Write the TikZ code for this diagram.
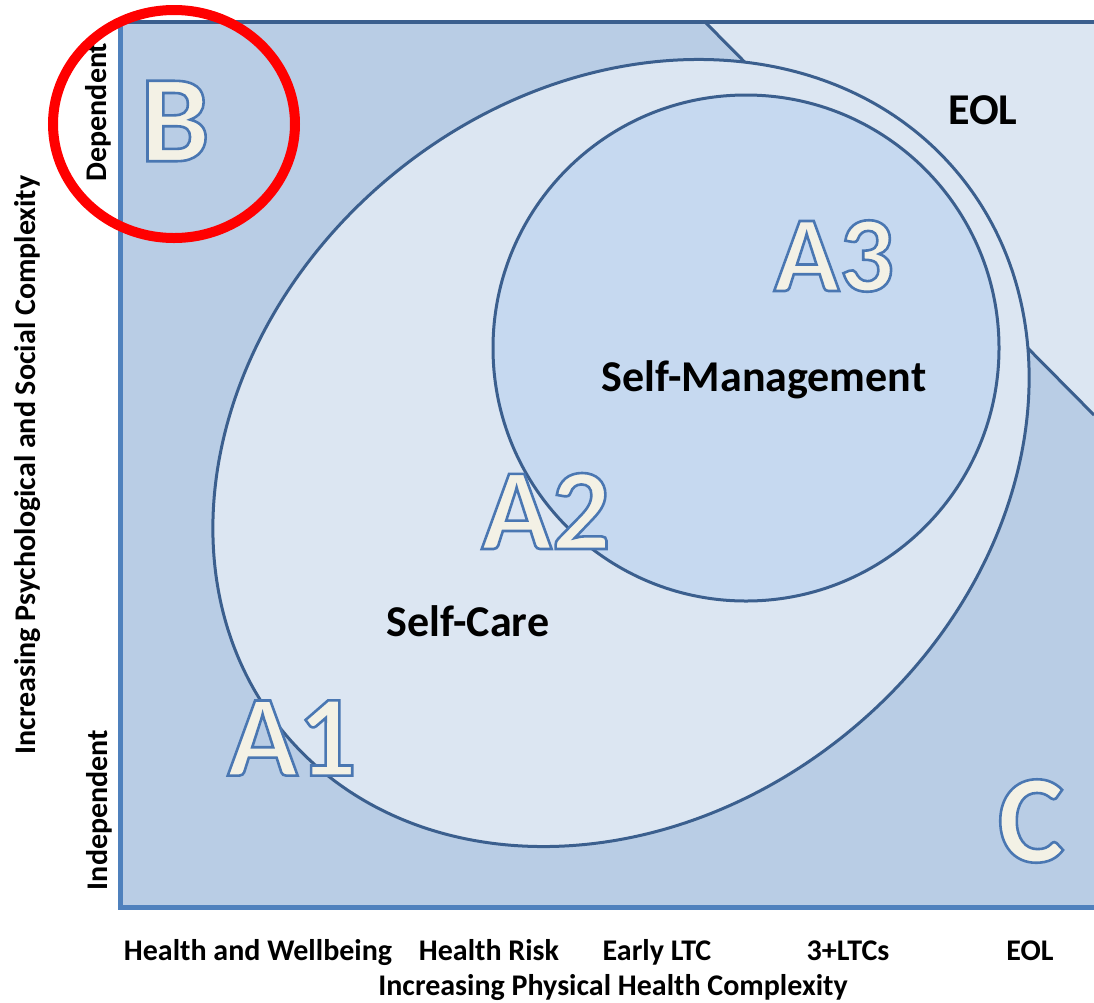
\documentclass[tikz,border=0pt]{standalone}
\usepackage{fontspec}
\setmainfont{Carlito}
\definecolor{bgblue}{HTML}{B9CDE5}
\definecolor{paleblue}{HTML}{DCE6F2}
\definecolor{innerblue}{HTML}{C6D9F0}
\definecolor{edgeblue}{HTML}{3B5F8E}
\definecolor{axisblue}{HTML}{4F81BD}
\definecolor{lettercream}{HTML}{F3F1E5}
% filled and stroked glyphs, blue rim
\newcommand{\zonetext}[1]{\textcolor{lettercream}{%
	\special{pdf:literal direct 2 Tr 2.6 w 0.29 0.467 0.698 RG}#1%
	\special{pdf:literal direct 0 Tr}}}

\begin{document}
\begin{tikzpicture}[x=1pt,y=-1pt,
		region/.style={draw=edgeblue,line width=3pt},
		zone/.style={inner sep=0pt,font=\fontsize{#1}{#1}\selectfont\bfseries},
		tag/.style={inner sep=0pt,font=\fontsize{44}{44}\selectfont\bfseries},
		axislabel/.style={inner sep=0pt,anchor=base,font=\fontsize{30}{30}\selectfont\bfseries}]
		\useasboundingbox (0,0) rectangle (1094,1002);
		\fill[bgblue] (120,22) rectangle (1094,907);
		\fill[paleblue] (705,22) -- (1094,22) -- (1094,415) -- cycle;
		\draw[edgeblue,line width=3pt] (705,22) -- (1094,415);
		\draw[region,fill=paleblue,rotate around={39.6:(621,453)}] 
			(621,453) ellipse[x radius=438,y radius=360];
		\draw[region,fill=innerblue] (746,348) circle[radius=253];
		\draw[edgeblue,line width=4pt] (120,22) -- (1094,22);
		\draw[axisblue,line width=5pt] (120,22) -- (120,907) -- (1094,907);

		\node[zone=124] (B) at (175,121) {\zonetext{B}};
		\node[zone=116] (A1) at (292,738) {\zonetext{A1}};
		\node[zone=116] (A2) at (546,511) {\zonetext{A2}};
		\node[zone=108] (A3) at (834,256) {\zonetext{A3}};
		\node[zone=126] (C) at (1031,821) {\zonetext{C}};

		\node[tag] (eol) at (983,110) {EOL};
		\node[tag] (selfman) at (764,380) {Self-Management};
		\node[tag] (selfcare) at (468,621) {Self-Care};

		\node[axislabel] (hw) at (258,960) {Health and Wellbeing};
		\node[axislabel] (risk) at (489,960) {Health Risk};
		\node[axislabel] (early) at (657,960) {Early LTC};
		\node[axislabel] (multi) at (848,960) {3+LTCs};
		\node[axislabel] (end) at (1030,960) {EOL};
		\node[axislabel] (xaxis) at (613,995) {Increasing Physical Health Complexity};
		\node[axislabel,anchor=center,rotate=90] (yaxis) at (28,465) 
			{Increasing Psychological and Social Complexity};
		\node[axislabel,anchor=center,rotate=90] (dep) at (98,112) {Dependent};
		\node[axislabel,anchor=center,rotate=90] (indep) at (99,810) {Independent};

		\draw[red,line width=10pt] (174,124) ellipse[x radius=121,y radius=114];
	\end{tikzpicture}
\end{document}
